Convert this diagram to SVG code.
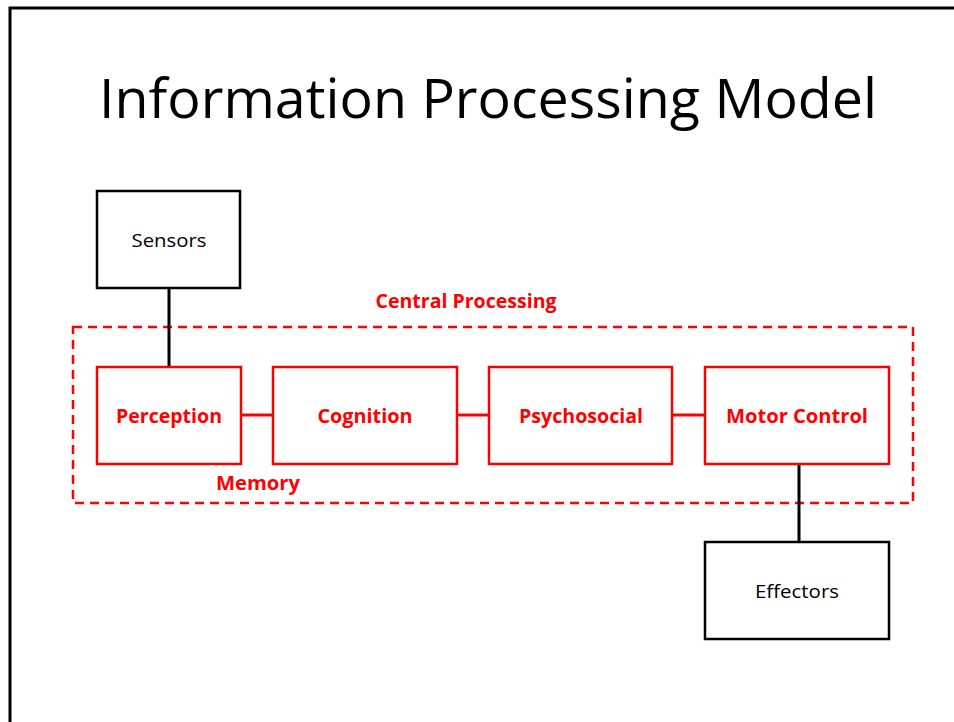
<svg xmlns="http://www.w3.org/2000/svg" width="954" height="722" viewBox="0 0 954 722">
<style>
.frame{fill:none;stroke:#000;stroke-width:3}
.bbox{fill:#fff;stroke:#000;stroke-width:2.5}
.rbox{fill:#fff;stroke:#ff0000;stroke-width:2.5}
.dash{fill:none;stroke:#ff0000;stroke-width:2.5;stroke-dasharray:9 6}
.bl{stroke:#000;stroke-width:3}
.rl{stroke:#ff0000;stroke-width:3}
.t{font-family:"Open Sans","Noto Sans","Liberation Sans",sans-serif;font-size:19px;text-anchor:middle}
.r{fill:#ff0000;font-weight:bold}
.title{font-family:"Open Sans","Noto Sans","Liberation Sans",sans-serif;font-size:54px;text-anchor:middle;fill:#000}
</style>
<rect width="954" height="722" fill="#fff"/>
<path class="frame" d="M10,722 V8 H954"/>
<text class="title" x="488" y="118" textLength="778" lengthAdjust="spacingAndGlyphs">Information Processing Model</text>
<g id="central-processing">
<rect class="dash" x="73" y="327" width="840" height="176"/>
<text class="t r" x="466" y="308" textLength="181" lengthAdjust="spacingAndGlyphs">Central Processing</text>
<text class="t r" x="258" y="490" textLength="84" lengthAdjust="spacingAndGlyphs">Memory</text>
</g>
<g id="connectors">
<line class="bl" x1="169" y1="288" x2="169" y2="367"/>
<line class="rl" x1="241" y1="415" x2="273" y2="415"/>
<line class="rl" x1="457" y1="415" x2="489" y2="415"/>
<line class="rl" x1="672" y1="415" x2="705" y2="415"/>
<line class="bl" x1="799" y1="464" x2="799" y2="542"/>
</g>
<g id="sensors">
<rect class="bbox" x="97" y="191" width="143" height="97"/>
<text class="t" x="169" y="247" textLength="75" lengthAdjust="spacingAndGlyphs">Sensors</text>
</g>
<g id="perception">
<rect class="rbox" x="97" y="367" width="144" height="97"/>
<text class="t r" x="169" y="423" textLength="106" lengthAdjust="spacingAndGlyphs">Perception</text>
</g>
<g id="cognition">
<rect class="rbox" x="273" y="367" width="184" height="97"/>
<text class="t r" x="365" y="423" textLength="95" lengthAdjust="spacingAndGlyphs">Cognition</text>
</g>
<g id="psychosocial">
<rect class="rbox" x="489" y="367" width="183" height="97"/>
<text class="t r" x="581" y="423" textLength="124" lengthAdjust="spacingAndGlyphs">Psychosocial</text>
</g>
<g id="motor-control">
<rect class="rbox" x="705" y="367" width="184" height="97"/>
<text class="t r" x="797" y="423" textLength="142" lengthAdjust="spacingAndGlyphs">Motor Control</text>
</g>
<g id="effectors">
<rect class="bbox" x="705" y="542" width="184" height="97"/>
<text class="t" x="797" y="598" textLength="84" lengthAdjust="spacingAndGlyphs">Effectors</text>
</g>
</svg>
